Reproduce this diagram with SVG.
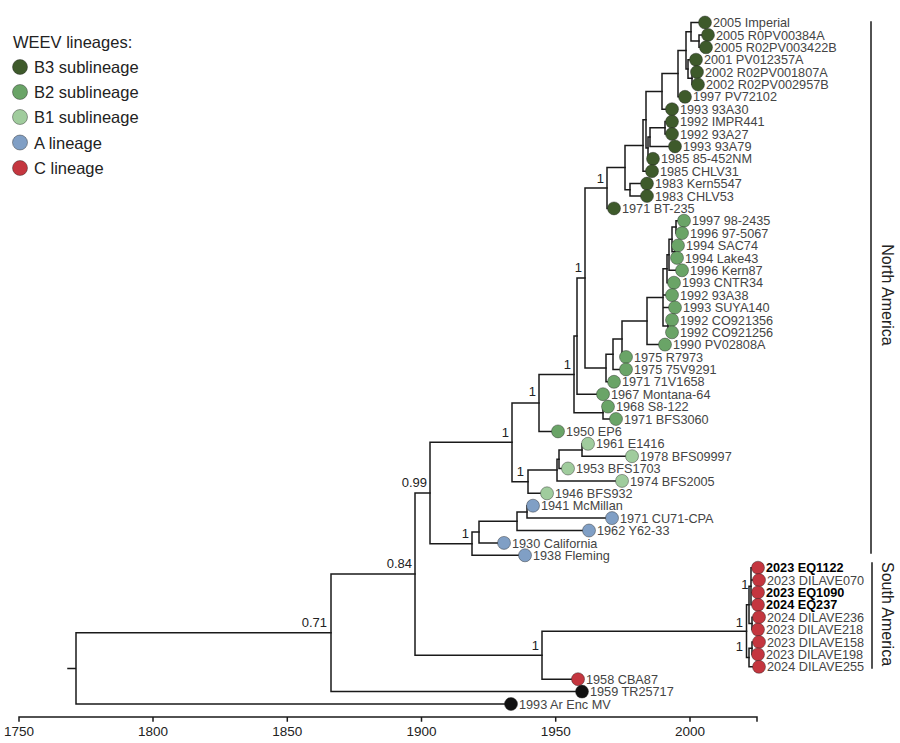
<svg xmlns="http://www.w3.org/2000/svg" width="900" height="743" viewBox="0 0 900 743">
<style>
text{font-family:"Liberation Sans",Arial,sans-serif}
.lf{font-size:12.7px;fill:#444}
.bd{font-size:12.7px;fill:#000;font-weight:bold}
.pp{font-size:13px;fill:#222;text-anchor:end}
.ax{font-size:13.5px;fill:#222;text-anchor:middle}
.lg{font-size:16.5px;fill:#222}
.rg{font-size:16px;fill:#222;text-anchor:middle}
.br{fill:none;stroke:#1a1a1a;stroke-width:1.5;stroke-linecap:square}
circle{stroke:#222;stroke-width:0.6;stroke-opacity:0.7}
.b3{fill:#3e5a2b}.b2{fill:#6aa467}.b1{fill:#a0cc9d}.ca{fill:#809fc5}.cc{fill:#c4363f}.ck{fill:#111}
</style>
<rect width="900" height="743" fill="#fff"/>
<g id="connectors" class="br">
<path d="M68 668.4H76M76 632.8V704M76 632.8H331M76 704H511"/>
<path d="M331 574.1V691.6M331 574.1H415M331 691.6H582"/>
<path d="M415 493V655.2M415 493H430M415 655.2H542"/>
<path d="M542 631.2V679.2M542 631.2H746.5M542 679.2H578"/>
<path d="M746.5 604.8V657.5M746.5 604.8H749M746.5 657.5H749"/>
<path d="M749 586.2V623.4M749 586.2H751M749 623.4H752"/>
<path d="M751 567.7V604.8M751 567.7H758M751 580.1H758M751 592.4H758M751 604.8H758"/>
<path d="M752 617.2V629.6M752 617.2H758M752 629.6H758"/>
<path d="M749 648.2V666.8M749 648.2H752M749 666.8H758"/>
<path d="M752 642V654.4M752 642H758M752 654.4H758"/>
<path d="M430 442.3V543.7M430 442.3H512M430 543.7H472"/>
<path d="M472 532V555.3M472 532H479M472 555.3H525"/>
<path d="M479 521.2V542.9M479 521.2H517M479 542.9H504"/>
<path d="M517 511.9V530.5M517 511.9H527M517 530.5H589"/>
<path d="M527 505.7V518.1M527 505.7H533M527 518.1H612"/>
<path d="M512 402.9V481.7M512 402.9H539M512 481.7H528"/>
<path d="M528 470.1V493.3M528 470.1H557M528 493.3H547"/>
<path d="M557 459.3V480.9M557 459.3H559M557 480.9H622"/>
<path d="M559 450V468.5M559 450H582M559 468.5H568"/>
<path d="M582 443.8V456.2M582 443.8H588M582 456.2H632"/>
<path d="M539 374.5V431.4M539 374.5H574M539 431.4H558"/>
<path d="M574 336.1V412.8M574 336.1H577M574 412.8H603"/>
<path d="M603 406.6V419M603 406.6H608M603 419H616"/>
<path d="M577 278V394.2M577 278H585M577 394.2H603"/>
<path d="M585 188V368M585 188H607M585 368H606"/>
<path d="M606 354.2V381.8M606 354.2H613M606 381.8H614"/>
<path d="M613 339V369.4M613 339H622M613 369.4H626"/>
<path d="M622 321V357M622 321H647M622 357H626"/>
<path d="M647 297.4V344.6M647 297.4H663M647 344.6H665"/>
<path d="M663 268.7V326.1M663 268.7H667M663 295.1H672M663 307.5H675M663 326.1H668"/>
<path d="M668 319.9V332.3M668 319.9H672M668 332.3H672"/>
<path d="M667 254.8V282.7M667 254.8H669M667 282.7H674"/>
<path d="M669 239.3V270.3M669 239.3H672M669 270.3H682"/>
<path d="M672 226.9V251.7M672 226.9H676M672 251.7H675"/>
<path d="M676 220.7V233.1M676 220.7H684M676 233.1H682"/>
<path d="M675 245.5V257.9M675 245.5H678M675 257.9H677"/>
<path d="M607 167.6V208.4M607 167.6H625M607 208.4H614"/>
<path d="M625 145.4V189.8M625 145.4H643M625 189.8H630"/>
<path d="M630 183.6V196M630 183.6H647M630 196H647"/>
<path d="M643 119.7V171.2M643 119.7H646M643 171.2H652"/>
<path d="M646 91.4V148M646 91.4H662M646 148H648"/>
<path d="M648 137.1V158.8M648 137.1H650M648 158.8H653"/>
<path d="M650 127.8V146.4M650 127.8H665M650 146.4H675"/>
<path d="M665 121.6V134M665 121.6H672M665 134H672"/>
<path d="M662 73.6V109.2M662 73.6H678M662 109.2H672"/>
<path d="M678 50.4V96.8M678 50.4H686M678 96.8H685"/>
<path d="M686 31.8V69M686 31.8H691M686 69H688"/>
<path d="M691 22.5V41.1M691 22.5H705M691 41.1H699"/>
<path d="M699 34.9V47.3M699 34.9H708M699 47.3H706"/>
<path d="M688 59.7V78.3M688 59.7H696M688 78.3H692"/>
<path d="M692 72.1V84.5M692 72.1H697M692 84.5H698"/>
</g>
<g id="support">
<text class="pp" x="327" y="627">0.71</text>
<text class="pp" x="412" y="568">0.84</text>
<text class="pp" x="427" y="487">0.99</text>
<text class="pp" x="509" y="437">1</text>
<text class="pp" x="536" y="396">1</text>
<text class="pp" x="571" y="369">1</text>
<text class="pp" x="582" y="272">1</text>
<text class="pp" x="604" y="183">1</text>
<text class="pp" x="524" y="476">1</text>
<text class="pp" x="469" y="538">1</text>
<text class="pp" x="539" y="650">1</text>
<text class="pp" x="743" y="627">1</text>
<text class="pp" x="748.5" y="589">1</text>
<text class="pp" x="743" y="651">1</text>
</g>
<g id="leaves-B3">
<g id="n0"><circle class="b3" cx="705" cy="22.5" r="6.5"/><text class="lf" x="713" y="27.1">2005 Imperial</text></g>
<g id="n1"><circle class="b3" cx="708" cy="34.9" r="6.5"/><text class="lf" x="716" y="39.5">2005 R0PV00384A</text></g>
<g id="n2"><circle class="b3" cx="706" cy="47.3" r="6.5"/><text class="lf" x="714" y="51.9">2005 R02PV003422B</text></g>
<g id="n3"><circle class="b3" cx="696" cy="59.7" r="6.5"/><text class="lf" x="704" y="64.3">2001 PV012357A</text></g>
<g id="n4"><circle class="b3" cx="697" cy="72.1" r="6.5"/><text class="lf" x="705" y="76.7">2002 R02PV001807A</text></g>
<g id="n5"><circle class="b3" cx="698" cy="84.5" r="6.5"/><text class="lf" x="706" y="89.1">2002 R02PV002957B</text></g>
<g id="n6"><circle class="b3" cx="685" cy="96.8" r="6.5"/><text class="lf" x="693" y="101.4">1997 PV72102</text></g>
<g id="n7"><circle class="b3" cx="672" cy="109.2" r="6.5"/><text class="lf" x="680" y="113.8">1993 93A30</text></g>
<g id="n8"><circle class="b3" cx="672" cy="121.6" r="6.5"/><text class="lf" x="680" y="126.2">1992 IMPR441</text></g>
<g id="n9"><circle class="b3" cx="672" cy="134" r="6.5"/><text class="lf" x="680" y="138.6">1992 93A27</text></g>
<g id="n10"><circle class="b3" cx="675" cy="146.4" r="6.5"/><text class="lf" x="683" y="151">1993 93A79</text></g>
<g id="n11"><circle class="b3" cx="653" cy="158.8" r="6.5"/><text class="lf" x="661" y="163.4">1985 85-452NM</text></g>
<g id="n12"><circle class="b3" cx="652" cy="171.2" r="6.5"/><text class="lf" x="660" y="175.8">1985 CHLV31</text></g>
<g id="n13"><circle class="b3" cx="647" cy="183.6" r="6.5"/><text class="lf" x="655" y="188.2">1983 Kern5547</text></g>
<g id="n14"><circle class="b3" cx="647" cy="196" r="6.5"/><text class="lf" x="655" y="200.6">1983 CHLV53</text></g>
<g id="n15"><circle class="b3" cx="614" cy="208.4" r="6.5"/><text class="lf" x="622" y="213">1971 BT-235</text></g>
</g>
<g id="leaves-B2">
<g id="n16"><circle class="b2" cx="684" cy="220.7" r="6.5"/><text class="lf" x="692" y="225.3">1997 98-2435</text></g>
<g id="n17"><circle class="b2" cx="682" cy="233.1" r="6.5"/><text class="lf" x="690" y="237.7">1996 97-5067</text></g>
<g id="n18"><circle class="b2" cx="678" cy="245.5" r="6.5"/><text class="lf" x="686" y="250.1">1994 SAC74</text></g>
<g id="n19"><circle class="b2" cx="677" cy="257.9" r="6.5"/><text class="lf" x="685" y="262.5">1994 Lake43</text></g>
<g id="n20"><circle class="b2" cx="682" cy="270.3" r="6.5"/><text class="lf" x="690" y="274.9">1996 Kern87</text></g>
<g id="n21"><circle class="b2" cx="674" cy="282.7" r="6.5"/><text class="lf" x="682" y="287.3">1993 CNTR34</text></g>
<g id="n22"><circle class="b2" cx="672" cy="295.1" r="6.5"/><text class="lf" x="680" y="299.7">1992 93A38</text></g>
<g id="n23"><circle class="b2" cx="675" cy="307.5" r="6.5"/><text class="lf" x="683" y="312.1">1993 SUYA140</text></g>
<g id="n24"><circle class="b2" cx="672" cy="319.9" r="6.5"/><text class="lf" x="680" y="324.5">1992 CO921356</text></g>
<g id="n25"><circle class="b2" cx="672" cy="332.3" r="6.5"/><text class="lf" x="680" y="336.9">1992 CO921256</text></g>
<g id="n26"><circle class="b2" cx="665" cy="344.6" r="6.5"/><text class="lf" x="673" y="349.2">1990 PV02808A</text></g>
<g id="n27"><circle class="b2" cx="626" cy="357" r="6.5"/><text class="lf" x="634" y="361.6">1975 R7973</text></g>
<g id="n28"><circle class="b2" cx="626" cy="369.4" r="6.5"/><text class="lf" x="634" y="374">1975 75V9291</text></g>
<g id="n29"><circle class="b2" cx="614" cy="381.8" r="6.5"/><text class="lf" x="622" y="386.4">1971 71V1658</text></g>
<g id="n30"><circle class="b2" cx="603" cy="394.2" r="6.5"/><text class="lf" x="611" y="398.8">1967 Montana-64</text></g>
<g id="n31"><circle class="b2" cx="608" cy="406.6" r="6.5"/><text class="lf" x="616" y="411.2">1968 S8-122</text></g>
<g id="n32"><circle class="b2" cx="616" cy="419" r="6.5"/><text class="lf" x="624" y="423.6">1971 BFS3060</text></g>
<g id="n33"><circle class="b2" cx="558" cy="431.4" r="6.5"/><text class="lf" x="566" y="436">1950 EP6</text></g>
</g>
<g id="leaves-B1">
<g id="n34"><circle class="b1" cx="588" cy="443.8" r="6.5"/><text class="lf" x="596" y="448.4">1961 E1416</text></g>
<g id="n35"><circle class="b1" cx="632" cy="456.2" r="6.5"/><text class="lf" x="640" y="460.8">1978 BFS09997</text></g>
<g id="n36"><circle class="b1" cx="568" cy="468.5" r="6.5"/><text class="lf" x="576" y="473.1">1953 BFS1703</text></g>
<g id="n37"><circle class="b1" cx="622" cy="480.9" r="6.5"/><text class="lf" x="630" y="485.5">1974 BFS2005</text></g>
<g id="n38"><circle class="b1" cx="547" cy="493.3" r="6.5"/><text class="lf" x="555" y="497.9">1946 BFS932</text></g>
</g>
<g id="leaves-A">
<g id="n39"><circle class="ca" cx="533" cy="505.7" r="6.5"/><text class="lf" x="541" y="510.3">1941 McMillan</text></g>
<g id="n40"><circle class="ca" cx="612" cy="518.1" r="6.5"/><text class="lf" x="620" y="522.7">1971 CU71-CPA</text></g>
<g id="n41"><circle class="ca" cx="589" cy="530.5" r="6.5"/><text class="lf" x="597" y="535.1">1962 Y62-33</text></g>
<g id="n42"><circle class="ca" cx="504" cy="542.9" r="6.5"/><text class="lf" x="512" y="547.5">1930 California</text></g>
<g id="n43"><circle class="ca" cx="525" cy="555.3" r="6.5"/><text class="lf" x="533" y="559.9">1938 Fleming</text></g>
</g>
<g id="leaves-C">
<g id="n44"><circle class="cc" cx="758" cy="567.7" r="6.5"/><text class="bd" x="766" y="572.3">2023 EQ1122</text></g>
<g id="n45"><circle class="cc" cx="759" cy="580.1" r="6.5"/><text class="lf" x="767" y="584.7">2023 DILAVE070</text></g>
<g id="n46"><circle class="cc" cx="758" cy="592.4" r="6.5"/><text class="bd" x="766" y="597">2023 EQ1090</text></g>
<g id="n47"><circle class="cc" cx="758" cy="604.8" r="6.5"/><text class="bd" x="766" y="609.4">2024 EQ237</text></g>
<g id="n48"><circle class="cc" cx="759" cy="617.2" r="6.5"/><text class="lf" x="767" y="621.8">2024 DILAVE236</text></g>
<g id="n49"><circle class="cc" cx="758" cy="629.6" r="6.5"/><text class="lf" x="766" y="634.2">2023 DILAVE218</text></g>
<g id="n50"><circle class="cc" cx="759" cy="642" r="6.5"/><text class="lf" x="767" y="646.6">2023 DILAVE158</text></g>
<g id="n51"><circle class="cc" cx="758" cy="654.4" r="6.5"/><text class="lf" x="766" y="659">2023 DILAVE198</text></g>
<g id="n52"><circle class="cc" cx="759" cy="666.8" r="6.5"/><text class="lf" x="767" y="671.4">2024 DILAVE255</text></g>
<g id="n53"><circle class="cc" cx="578" cy="679.2" r="6.5"/><text class="lf" x="586" y="683.8">1958 CBA87</text></g>
</g>
<g id="leaves-other">
<g id="n54"><circle class="ck" cx="582" cy="691.6" r="6.5"/><text class="lf" x="590" y="696.2">1959 TR25717</text></g>
<g id="n55"><circle class="ck" cx="511" cy="704" r="6.5"/><text class="lf" x="519" y="708.6">1993 Ar Enc MV</text></g>
</g>
<g id="regions">
<path class="br" d="M871 22V553M872 563V668"/>
<text class="rg" transform="translate(882,295) rotate(90)">North America</text>
<text class="rg" transform="translate(882,614) rotate(90)">South America</text>
</g>
<g id="axis">
<path class="br" d="M19 717H757M19 717V721M153 717V721M287.3 717V721M421.5 717V721M555.7 717V721M690 717V721M757 717V721"/>
<text class="ax" x="19" y="736">1750</text>
<text class="ax" x="153" y="736">1800</text>
<text class="ax" x="287.3" y="736">1850</text>
<text class="ax" x="421.5" y="736">1900</text>
<text class="ax" x="555.7" y="736">1950</text>
<text class="ax" x="690" y="736">2000</text>
</g>
<g id="legend">
<text class="lg" x="13" y="48">WEEV lineages:</text>
<circle class="b3" cx="20" cy="67" r="7.5"/><text class="lg" x="34" y="73">B3 sublineage</text>
<circle class="b2" cx="20" cy="92" r="7.5"/><text class="lg" x="34" y="98">B2 sublineage</text>
<circle class="b1" cx="20" cy="117" r="7.5"/><text class="lg" x="34" y="123">B1 sublineage</text>
<circle class="ca" cx="20" cy="142.5" r="7.5"/><text class="lg" x="34" y="148.5">A  lineage</text>
<circle class="cc" cx="20" cy="168" r="7.5"/><text class="lg" x="34" y="174">C  lineage</text>
</g>
</svg>
